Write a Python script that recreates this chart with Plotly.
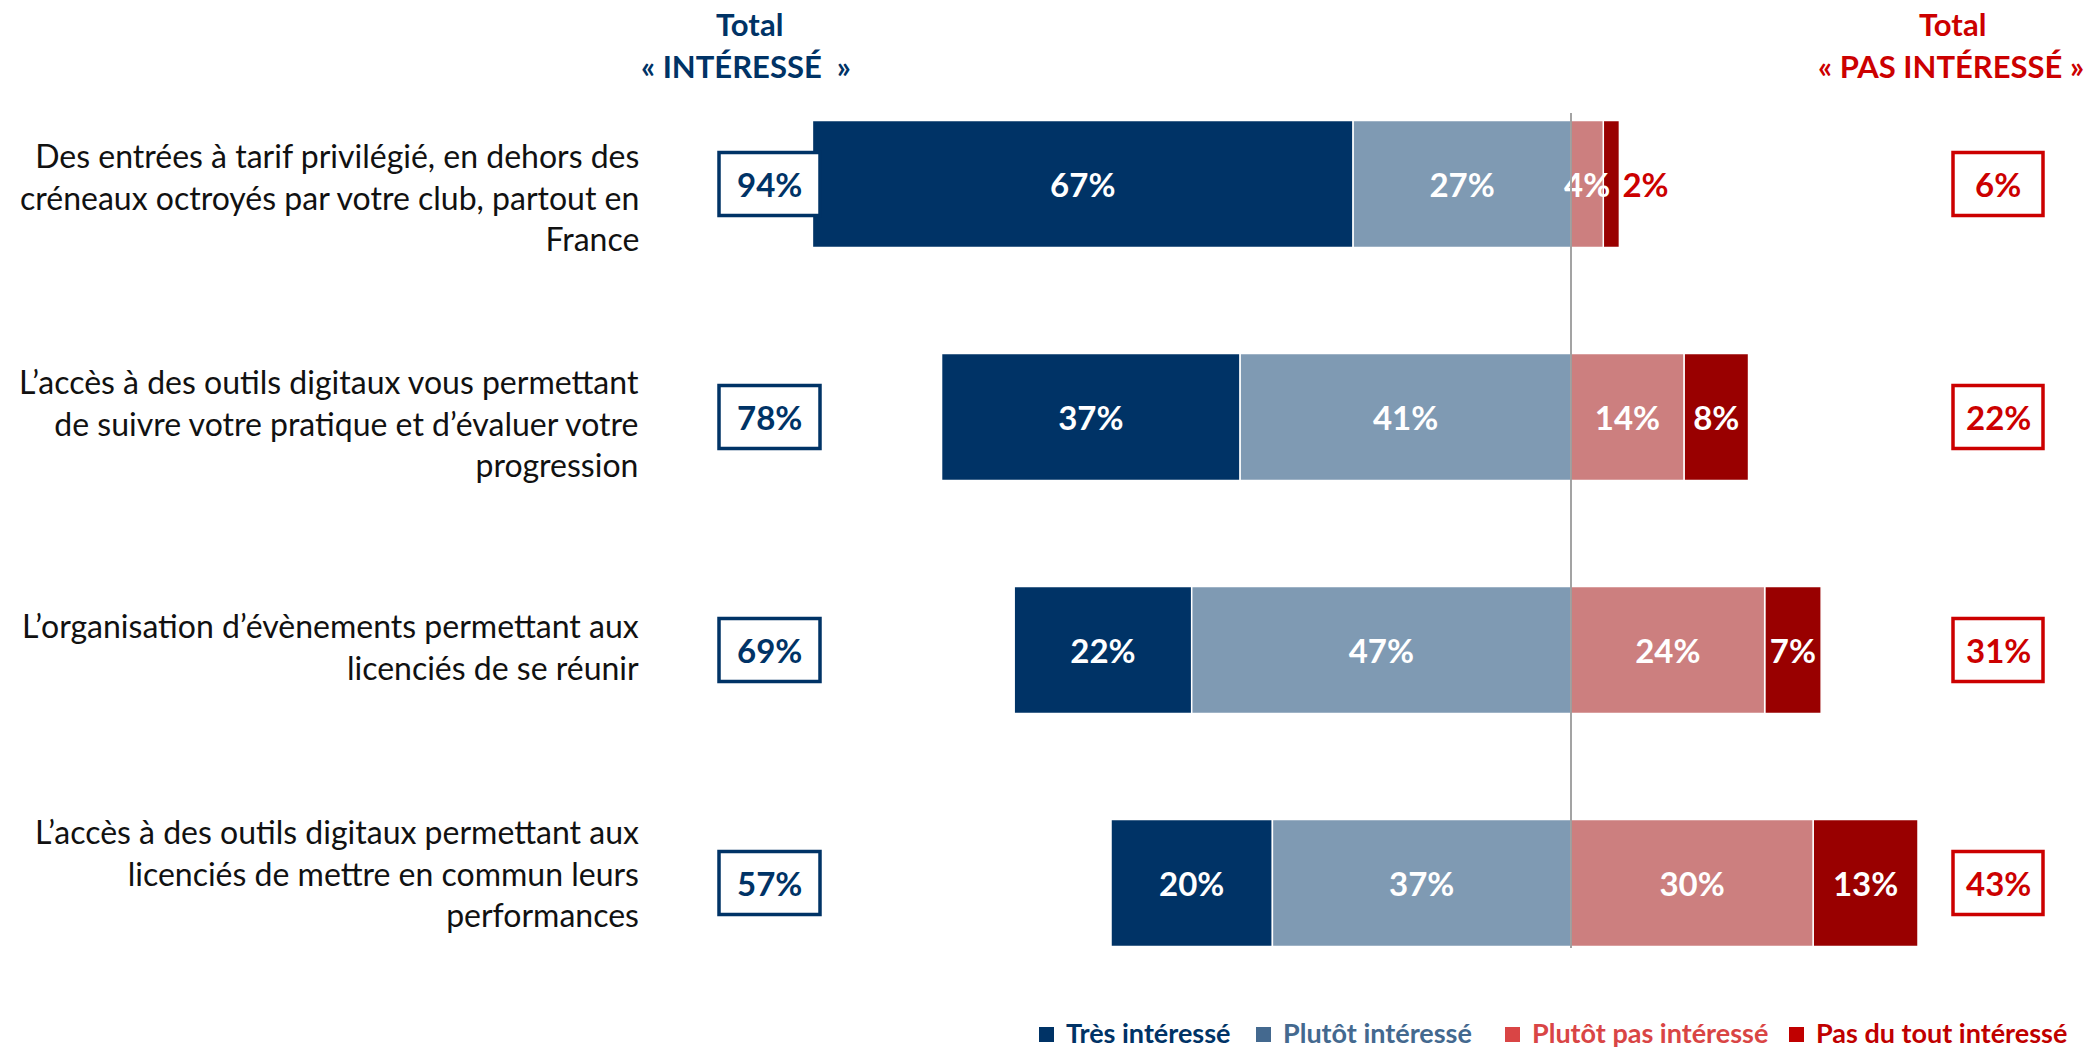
import plotly.graph_objects as go

# ---------------- data ----------------
categories = [
    "Des entrées à tarif privilégié, en dehors des<br>créneaux octroyés par votre club, partout en<br>France",
    "L’accès à des outils digitaux vous permettant<br>de suivre votre pratique et d’évaluer votre<br>progression",
    "L’organisation d’évènements permettant aux<br>licenciés de se réunir",
    "L’accès à des outils digitaux permettant aux<br>licenciés de mettre en commun leurs<br>performances",
]
tres_interesse = [67, 37, 22, 20]
plutot_interesse = [27, 41, 47, 37]
plutot_pas_interesse = [4, 14, 24, 30]
pas_du_tout_interesse = [2, 8, 7, 13]
total_interesse = [94, 78, 69, 57]
total_pas_interesse = [6, 22, 31, 43]
series_names = ["Très intéressé", "Plutôt intéressé", "Plutôt pas intéressé", "Pas du tout intéressé"]

# ---------------- style ----------------
FONT = "Lato"
NAVY = "#003366"
RED = "#CC0000"
BAR_COLORS = ["#003366", "#7F9AB3", "#CC7F7F", "#990000"]
LEGEND_COLORS = ["#003366", "#44698F", "#D94545", "#C00000"]
LABEL_SIZE = 33

W, H = 2086, 1050
L = 642
PW = W - L
PX_PER_PCT = 8.07
ZERO_PX = 1571


def px(x):
    return (x - L) / PW


def py(y):
    return 1 - y / H


ypos = list(range(len(categories)))


def pct(vals):
    return [f"{v}%" for v in vals]


# bar bases (stacking from the centre line)
base_plutot = [-v for v in plutot_interesse]
base_tres = [-(a + b) for a, b in zip(plutot_interesse, tres_interesse)]
base_plutot_pas = [0] * len(categories)
base_pas_du_tout = list(plutot_pas_interesse)

fig = go.Figure()

common = dict(orientation="h", width=0.545, textangle=0, constraintext="none",
              insidetextanchor="middle", marker_line_color="white", marker_line_width=1.5,
              hoverinfo="skip", showlegend=False, cliponaxis=False)
inside_font = dict(color="white", size=LABEL_SIZE, family=FONT, weight="bold")

fig.add_trace(go.Bar(y=ypos, x=tres_interesse, base=base_tres, name=series_names[0],
                     marker_color=BAR_COLORS[0], text=pct(tres_interesse), textposition="inside",
                     insidetextfont=inside_font, **common))
fig.add_trace(go.Bar(y=ypos, x=plutot_interesse, base=base_plutot, name=series_names[1],
                     marker_color=BAR_COLORS[1], text=pct(plutot_interesse), textposition="inside",
                     insidetextfont=inside_font, **common))
fig.add_trace(go.Bar(y=ypos, x=pas_du_tout_interesse, base=base_pas_du_tout, name=series_names[3],
                     marker_color=BAR_COLORS[3], text=pct(pas_du_tout_interesse),
                     textposition=["outside", "inside", "inside", "inside"],
                     insidetextfont=inside_font,
                     outsidetextfont=dict(color=RED, size=LABEL_SIZE, family=FONT, weight="bold"),
                     **common))
fig.add_trace(go.Bar(y=ypos, x=plutot_pas_interesse, base=base_plutot_pas, name=series_names[2],
                     marker_color=BAR_COLORS[2], text=pct(plutot_pas_interesse), textposition="inside",
                     insidetextfont=inside_font, **common))

shapes = []
annotations = []

# centre line
shapes.append(dict(type="line", xref="x", yref="paper", x0=0, x1=0, y0=py(113), y1=py(948),
                   line=dict(color="#858585", width=1.5), layer="above"))

# category labels
label_centers = [197, 423, 646, 873]
for cat, yc in zip(categories, label_centers):
    annotations.append(dict(xref="paper", yref="paper", x=px(641), y=py(yc), text=cat,
                            showarrow=False, align="right", xanchor="right", yanchor="middle",
                            font=dict(family=FONT, size=32, color="#111111")))

# total boxes
for i, (ti, tp) in enumerate(zip(total_interesse, total_pas_interesse)):
    shapes.append(dict(type="rect", xref="paper", yref="y", x0=px(719), x1=px(820),
                       y0=i - 0.135, y1=i + 0.135, line=dict(color=NAVY, width=3.5),
                       fillcolor="white"))
    shapes.append(dict(type="rect", xref="paper", yref="y", x0=px(1953), x1=px(2043),
                       y0=i - 0.135, y1=i + 0.135, line=dict(color=RED, width=3.5),
                       fillcolor="white"))
    annotations.append(dict(xref="paper", yref="y", x=px(769.5), y=i, text=f"<b>{ti}%</b>",
                            showarrow=False, font=dict(family=FONT, size=33, color=NAVY),
                            xanchor="center", yanchor="middle"))
    annotations.append(dict(xref="paper", yref="y", x=px(1998), y=i, text=f"<b>{tp}%</b>",
                            showarrow=False, font=dict(family=FONT, size=33, color=RED),
                            xanchor="center", yanchor="middle"))

# headers
for txt, x, y, c in [("Total", 749, 24, NAVY), ("« INTÉRESSÉ \u00a0»", 746, 66, NAVY),
                     ("Total", 1952, 24, RED), ("« PAS INTÉRESSÉ »", 1951, 66, RED)]:
    annotations.append(dict(xref="paper", yref="paper", x=px(x), y=py(y), text=f"<b>{txt}</b>",
                            showarrow=False, font=dict(family=FONT, size=31, color=c),
                            xanchor="center", yanchor="middle"))

# legend
marker_x = [1039, 1256, 1505, 1789]
for k, m in enumerate(marker_x):
    shapes.append(dict(type="rect", xref="paper", yref="paper", x0=px(m), x1=px(m + 15),
                       y0=py(1042), y1=py(1027), line=dict(width=0), fillcolor=LEGEND_COLORS[k]))
    annotations.append(dict(xref="paper", yref="paper", x=px(m + 25), y=py(1032),
                            text=f"<b>{series_names[k]}</b>", showarrow=False,
                            font=dict(family=FONT, size=27, color=LEGEND_COLORS[k]),
                            xanchor="left", yanchor="middle"))

fig.update_layout(
    width=W, height=H,
    margin=dict(l=L, r=0, t=0, b=0, autoexpand=False),
    barmode="overlay",
    plot_bgcolor="white", paper_bgcolor="white",
    xaxis=dict(range=[-(ZERO_PX - L) / PX_PER_PCT, (W - ZERO_PX) / PX_PER_PCT],
               visible=False, fixedrange=True),
    yaxis=dict(range=[(H - 184) / 233, -184 / 233], tickvals=ypos, showticklabels=False,
               showgrid=False, zeroline=False, showline=False, ticks="",
               automargin=False, fixedrange=True),
    shapes=shapes,
    annotations=annotations,
    font=dict(family=FONT),
)

fig.write_html("out.html", config={"displayModeBar": False},
               post_script="document.body.style.margin='0';document.body.style.overflow='hidden';")
